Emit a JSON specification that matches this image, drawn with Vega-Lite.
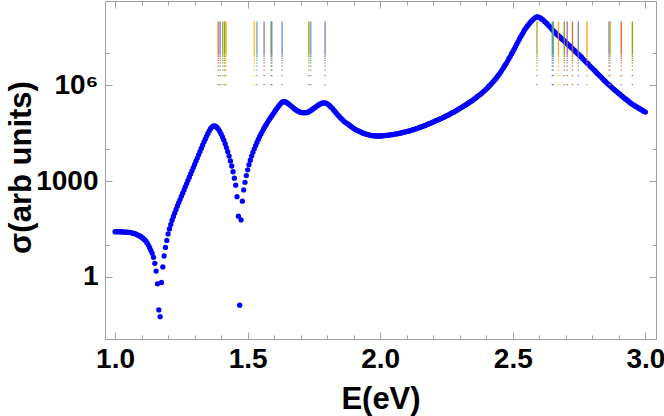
{
"$schema": "https://vega.github.io/schema/vega-lite/v6.json",
"width": 551, "height": 338,
"autosize": {"type": "none"},
"padding": {"left": 105, "top": 1, "right": 8, "bottom": 77},
"background": "white",
"config": {"view": {"stroke": "#a0a0a0", "strokeWidth": 1}, "font": "Liberation Sans"},
"datasets": {
"curve": [
{"E":1.000,"s":25.7},{"E":1.005,"s":25.7},{"E":1.010,"s":25.7},{"E":1.015,"s":25.7},{"E":1.020,"s":25.7},{"E":1.025,"s":25.7},
{"E":1.030,"s":25.1},{"E":1.035,"s":25.1},{"E":1.040,"s":25.1},{"E":1.045,"s":25.1},{"E":1.050,"s":24.5},{"E":1.055,"s":24.5},
{"E":1.060,"s":24.0},{"E":1.065,"s":23.4},{"E":1.070,"s":22.9},{"E":1.075,"s":22.4},{"E":1.080,"s":21.4},{"E":1.085,"s":20.4},
{"E":1.090,"s":19.5},{"E":1.095,"s":18.6},{"E":1.100,"s":17.4},{"E":1.105,"s":16.2},{"E":1.110,"s":14.8},{"E":1.115,"s":13.5},
{"E":1.120,"s":11.7},{"E":1.125,"s":10.0},{"E":1.130,"s":8.32},{"E":1.135,"s":6.76},{"E":1.140,"s":5.37},{"E":1.145,"s":4.07},
{"E":1.150,"s":2.63},{"E":1.155,"s":1.51},{"E":1.160,"s":0.603},{"E":1.165,"s":0.0912},{"E":1.170,"s":0.0562},{"E":1.175,"s":0.661},
{"E":1.180,"s":2.04},{"E":1.185,"s":4.47},{"E":1.190,"s":8.32},{"E":1.195,"s":13.8},{"E":1.200,"s":21.9},
{"E":1.205,"s":31.6},{"E":1.210,"s":43.7},{"E":1.215,"s":58.9},{"E":1.220,"s":77.6},{"E":1.225,"s":100},{"E":1.230,"s":129},
{"E":1.235,"s":166},{"E":1.240,"s":209},{"E":1.245,"s":263},{"E":1.250,"s":331},{"E":1.255,"s":417},{"E":1.260,"s":525},
{"E":1.265,"s":661},{"E":1.270,"s":832},{"E":1.275,"s":1050},{"E":1.280,"s":1320},{"E":1.285,"s":1660},{"E":1.290,"s":2090},
{"E":1.295,"s":2630},{"E":1.300,"s":3310},{"E":1.305,"s":4170},{"E":1.310,"s":5250},{"E":1.315,"s":6610},{"E":1.320,"s":8320},
{"E":1.325,"s":1.05e4},{"E":1.330,"s":1.32e4},{"E":1.335,"s":1.66e4},{"E":1.340,"s":2.04e4},{"E":1.345,"s":2.51e4},{"E":1.350,"s":3.09e4},
{"E":1.355,"s":3.72e4},{"E":1.360,"s":4.37e4},{"E":1.365,"s":4.90e4},{"E":1.370,"s":5.25e4},{"E":1.375,"s":5.37e4},{"E":1.380,"s":5.13e4},
{"E":1.385,"s":4.68e4},{"E":1.390,"s":4.17e4},{"E":1.395,"s":3.55e4},{"E":1.400,"s":2.95e4},{"E":1.405,"s":2.40e4},{"E":1.410,"s":1.91e4},
{"E":1.415,"s":1.48e4},{"E":1.420,"s":1.12e4},{"E":1.425,"s":8320},{"E":1.430,"s":6030},{"E":1.435,"s":4270},{"E":1.440,"s":2950},
{"E":1.445,"s":1950},{"E":1.450,"s":1230},{"E":1.455,"s":741},{"E":1.460,"s":324},{"E":1.465,"s":79.4},{"E":1.470,"s":0.129},
{"E":1.475,"s":60.3},{"E":1.480,"s":234},{"E":1.485,"s":525},{"E":1.490,"s":912},{"E":1.495,"s":1480},{"E":1.500,"s":2240},
{"E":1.505,"s":3240},{"E":1.510,"s":4470},{"E":1.515,"s":6030},{"E":1.520,"s":7940},{"E":1.525,"s":1.02e4},{"E":1.530,"s":1.29e4},
{"E":1.535,"s":1.62e4},{"E":1.540,"s":2.00e4},{"E":1.545,"s":2.45e4},{"E":1.550,"s":2.95e4},{"E":1.555,"s":3.55e4},{"E":1.560,"s":4.27e4},
{"E":1.565,"s":5.01e4},{"E":1.570,"s":5.89e4},{"E":1.575,"s":6.92e4},{"E":1.580,"s":8.13e4},{"E":1.585,"s":9.33e4},{"E":1.590,"s":1.07e5},
{"E":1.595,"s":1.23e5},{"E":1.600,"s":1.41e5},{"E":1.605,"s":1.62e5},{"E":1.610,"s":1.86e5},{"E":1.615,"s":2.14e5},{"E":1.620,"s":2.40e5},
{"E":1.625,"s":2.69e5},{"E":1.630,"s":2.95e5},{"E":1.635,"s":3.09e5},{"E":1.640,"s":3.09e5},{"E":1.645,"s":2.95e5},{"E":1.650,"s":2.75e5},
{"E":1.655,"s":2.57e5},{"E":1.660,"s":2.40e5},{"E":1.665,"s":2.19e5},{"E":1.670,"s":2.04e5},{"E":1.675,"s":1.86e5},{"E":1.680,"s":1.74e5},
{"E":1.685,"s":1.62e5},{"E":1.690,"s":1.55e5},{"E":1.695,"s":1.48e5},{"E":1.700,"s":1.41e5},{"E":1.705,"s":1.38e5},{"E":1.710,"s":1.38e5},
{"E":1.715,"s":1.38e5},{"E":1.720,"s":1.38e5},{"E":1.725,"s":1.41e5},{"E":1.730,"s":1.48e5},{"E":1.735,"s":1.55e5},{"E":1.740,"s":1.66e5},
{"E":1.745,"s":1.78e5},{"E":1.750,"s":1.91e5},{"E":1.755,"s":2.04e5},{"E":1.760,"s":2.19e5},{"E":1.765,"s":2.34e5},{"E":1.770,"s":2.51e5},
{"E":1.775,"s":2.63e5},{"E":1.780,"s":2.75e5},{"E":1.785,"s":2.82e5},{"E":1.790,"s":2.82e5},{"E":1.795,"s":2.75e5},{"E":1.800,"s":2.63e5},
{"E":1.805,"s":2.45e5},{"E":1.810,"s":2.24e5},{"E":1.815,"s":2.04e5},{"E":1.820,"s":1.86e5},{"E":1.825,"s":1.66e5},{"E":1.830,"s":1.48e5},
{"E":1.835,"s":1.32e5},{"E":1.840,"s":1.17e5},{"E":1.845,"s":1.07e5},{"E":1.850,"s":9.55e4},{"E":1.855,"s":8.71e4},{"E":1.860,"s":7.94e4},
{"E":1.865,"s":7.24e4},{"E":1.870,"s":6.76e4},{"E":1.875,"s":6.31e4},{"E":1.880,"s":5.89e4},{"E":1.885,"s":5.50e4},{"E":1.890,"s":5.13e4},
{"E":1.895,"s":4.79e4},{"E":1.900,"s":4.47e4},{"E":1.905,"s":4.17e4},{"E":1.910,"s":3.98e4},{"E":1.915,"s":3.80e4},{"E":1.920,"s":3.63e4},
{"E":1.925,"s":3.47e4},{"E":1.930,"s":3.31e4},{"E":1.935,"s":3.16e4},{"E":1.940,"s":3.09e4},{"E":1.945,"s":2.95e4},{"E":1.950,"s":2.88e4},
{"E":1.955,"s":2.82e4},{"E":1.960,"s":2.75e4},{"E":1.965,"s":2.69e4},{"E":1.970,"s":2.63e4},{"E":1.975,"s":2.63e4},{"E":1.980,"s":2.57e4},
{"E":1.985,"s":2.57e4},{"E":1.990,"s":2.57e4},{"E":1.995,"s":2.57e4},{"E":2.000,"s":2.57e4},{"E":2.005,"s":2.57e4},{"E":2.010,"s":2.63e4},
{"E":2.015,"s":2.63e4},{"E":2.020,"s":2.69e4},{"E":2.025,"s":2.69e4},{"E":2.030,"s":2.75e4},{"E":2.035,"s":2.75e4},{"E":2.040,"s":2.82e4},
{"E":2.045,"s":2.82e4},{"E":2.050,"s":2.88e4},{"E":2.055,"s":2.95e4},{"E":2.060,"s":3.02e4},{"E":2.065,"s":3.02e4},{"E":2.070,"s":3.09e4},
{"E":2.075,"s":3.16e4},{"E":2.080,"s":3.24e4},{"E":2.085,"s":3.31e4},{"E":2.090,"s":3.39e4},{"E":2.095,"s":3.47e4},{"E":2.100,"s":3.55e4},
{"E":2.105,"s":3.63e4},{"E":2.110,"s":3.72e4},{"E":2.115,"s":3.80e4},{"E":2.120,"s":3.98e4},{"E":2.125,"s":4.07e4},{"E":2.130,"s":4.17e4},
{"E":2.135,"s":4.37e4},{"E":2.140,"s":4.47e4},{"E":2.145,"s":4.68e4},{"E":2.150,"s":4.79e4},{"E":2.155,"s":5.01e4},{"E":2.160,"s":5.13e4},
{"E":2.165,"s":5.37e4},{"E":2.170,"s":5.50e4},{"E":2.175,"s":5.75e4},{"E":2.180,"s":6.03e4},{"E":2.185,"s":6.31e4},{"E":2.190,"s":6.46e4},
{"E":2.195,"s":6.76e4},{"E":2.200,"s":7.08e4},{"E":2.205,"s":7.41e4},{"E":2.210,"s":7.76e4},{"E":2.215,"s":7.94e4},{"E":2.220,"s":8.32e4},
{"E":2.225,"s":8.71e4},{"E":2.230,"s":9.12e4},{"E":2.235,"s":9.55e4},{"E":2.240,"s":1.00e5},{"E":2.245,"s":1.05e5},{"E":2.250,"s":1.10e5},
{"E":2.255,"s":1.15e5},{"E":2.260,"s":1.20e5},{"E":2.265,"s":1.29e5},{"E":2.270,"s":1.35e5},{"E":2.275,"s":1.41e5},{"E":2.280,"s":1.48e5},
{"E":2.285,"s":1.58e5},{"E":2.290,"s":1.66e5},{"E":2.295,"s":1.78e5},{"E":2.300,"s":1.86e5},{"E":2.305,"s":2.00e5},{"E":2.310,"s":2.09e5},
{"E":2.315,"s":2.24e5},{"E":2.320,"s":2.34e5},{"E":2.325,"s":2.51e5},{"E":2.330,"s":2.69e5},{"E":2.335,"s":2.88e5},{"E":2.340,"s":3.02e5},
{"E":2.345,"s":3.24e5},{"E":2.350,"s":3.47e5},{"E":2.355,"s":3.72e5},{"E":2.360,"s":3.98e5},{"E":2.365,"s":4.37e5},{"E":2.370,"s":4.68e5},
{"E":2.375,"s":5.01e5},{"E":2.380,"s":5.37e5},{"E":2.385,"s":5.89e5},{"E":2.390,"s":6.46e5},{"E":2.395,"s":6.92e5},{"E":2.400,"s":7.59e5},
{"E":2.405,"s":8.32e5},{"E":2.410,"s":9.33e5},{"E":2.415,"s":1.02e6},{"E":2.420,"s":1.15e6},{"E":2.425,"s":1.26e6},{"E":2.430,"s":1.41e6},
{"E":2.435,"s":1.58e6},{"E":2.440,"s":1.78e6},{"E":2.445,"s":2.04e6},{"E":2.450,"s":2.29e6},{"E":2.455,"s":2.63e6},{"E":2.460,"s":3.09e6},
{"E":2.465,"s":3.55e6},{"E":2.470,"s":4.17e6},{"E":2.475,"s":4.79e6},{"E":2.480,"s":5.62e6},{"E":2.485,"s":6.76e6},{"E":2.490,"s":7.94e6},
{"E":2.495,"s":9.55e6},{"E":2.500,"s":1.12e7},{"E":2.505,"s":1.35e7},{"E":2.510,"s":1.62e7},{"E":2.515,"s":1.95e7},{"E":2.520,"s":2.34e7},
{"E":2.525,"s":2.82e7},{"E":2.530,"s":3.31e7},{"E":2.535,"s":3.89e7},{"E":2.540,"s":4.68e7},{"E":2.545,"s":5.50e7},{"E":2.550,"s":6.31e7},
{"E":2.555,"s":7.24e7},{"E":2.560,"s":8.13e7},{"E":2.565,"s":9.12e7},{"E":2.570,"s":1.02e8},{"E":2.575,"s":1.12e8},{"E":2.580,"s":1.23e8},
{"E":2.585,"s":1.32e8},{"E":2.590,"s":1.38e8},{"E":2.595,"s":1.38e8},{"E":2.600,"s":1.32e8},{"E":2.605,"s":1.26e8},{"E":2.610,"s":1.17e8},
{"E":2.615,"s":1.10e8},{"E":2.620,"s":1.00e8},{"E":2.625,"s":9.12e7},{"E":2.630,"s":8.32e7},{"E":2.635,"s":7.41e7},{"E":2.640,"s":6.76e7},
{"E":2.645,"s":6.03e7},{"E":2.650,"s":5.37e7},{"E":2.655,"s":4.90e7},{"E":2.660,"s":4.47e7},{"E":2.665,"s":4.07e7},{"E":2.670,"s":3.72e7},
{"E":2.675,"s":3.39e7},{"E":2.680,"s":3.09e7},{"E":2.685,"s":2.82e7},{"E":2.690,"s":2.63e7},{"E":2.695,"s":2.40e7},{"E":2.700,"s":2.19e7},
{"E":2.705,"s":2.00e7},{"E":2.710,"s":1.82e7},{"E":2.715,"s":1.70e7},{"E":2.720,"s":1.55e7},{"E":2.725,"s":1.41e7},{"E":2.730,"s":1.29e7},
{"E":2.735,"s":1.17e7},{"E":2.740,"s":1.07e7},{"E":2.745,"s":9.77e6},{"E":2.750,"s":8.91e6},{"E":2.755,"s":8.13e6},{"E":2.760,"s":7.41e6},
{"E":2.765,"s":6.61e6},{"E":2.770,"s":6.03e6},{"E":2.775,"s":5.50e6},{"E":2.780,"s":5.01e6},{"E":2.785,"s":4.57e6},{"E":2.790,"s":4.07e6},
{"E":2.795,"s":3.72e6},{"E":2.800,"s":3.39e6},{"E":2.805,"s":3.09e6},{"E":2.810,"s":2.82e6},{"E":2.815,"s":2.51e6},{"E":2.820,"s":2.29e6},
{"E":2.825,"s":2.09e6},{"E":2.830,"s":1.91e6},{"E":2.835,"s":1.74e6},{"E":2.840,"s":1.55e6},{"E":2.845,"s":1.41e6},{"E":2.850,"s":1.29e6},
{"E":2.855,"s":1.17e6},{"E":2.860,"s":1.07e6},{"E":2.865,"s":1.00e6},{"E":2.870,"s":9.12e5},{"E":2.875,"s":8.32e5},{"E":2.880,"s":7.59e5},
{"E":2.885,"s":7.08e5},{"E":2.890,"s":6.46e5},{"E":2.895,"s":6.03e5},{"E":2.900,"s":5.50e5},{"E":2.905,"s":5.13e5},{"E":2.910,"s":4.68e5},
{"E":2.915,"s":4.37e5},{"E":2.920,"s":3.98e5},{"E":2.925,"s":3.72e5},{"E":2.930,"s":3.47e5},{"E":2.935,"s":3.24e5},{"E":2.940,"s":2.95e5},
{"E":2.945,"s":2.75e5},{"E":2.950,"s":2.57e5},{"E":2.955,"s":2.40e5},{"E":2.960,"s":2.29e5},{"E":2.965,"s":2.14e5},{"E":2.970,"s":2.04e5},
{"E":2.975,"s":1.91e5},{"E":2.980,"s":1.82e5},{"E":2.985,"s":1.70e5},{"E":2.990,"s":1.62e5},{"E":2.995,"s":1.51e5},{"E":3.000,"s":1.45e5}
],
"lines": [
{"E":1.389,"t":1},{"E":1.396,"t":2},{"E":1.406,"t":3},{"E":1.413,"t":4},{"E":1.418,"t":5},{"E":1.525,"t":6},{"E":1.535,"t":7},
{"E":1.562,"t":8},{"E":1.588,"t":9},{"E":1.591,"t":10},{"E":1.630,"t":11},{"E":1.731,"t":12},{"E":1.738,"t":13},{"E":1.792,"t":14},
{"E":2.591,"t":15},{"E":2.649,"t":16},{"E":2.653,"t":17},{"E":2.672,"t":18},{"E":2.694,"t":19},{"E":2.705,"t":20},{"E":2.725,"t":21},
{"E":2.747,"t":22},{"E":2.780,"t":23},{"E":2.863,"t":24},{"E":2.867,"t":25},{"E":2.909,"t":26},{"E":2.951,"t":27}
]
},
"layer": [
{
"data": {"name": "curve"},
"mark": {"type": "circle", "size": 28, "color": "#0000ff", "opacity": 1},
"encoding": {
"x": {"field": "E", "type": "quantitative",
 "scale": {"domain": [0.962, 3.04], "nice": false, "zero": false},
 "axis": {"orient": "bottom", "values": [1.0,1.1,1.2,1.3,1.4,1.5,1.6,1.7,1.8,1.9,2.0,2.1,2.2,2.3,2.4,2.5,2.6,2.7,2.8,2.9,3.0],
  "labelExpr": "abs(datum.value*2 - round(datum.value*2)) < 0.001 ? format(datum.value, '.1f') : ''",
  "tickSize": {"condition": {"test": "abs(datum.value*2 - round(datum.value*2)) < 0.001", "value": -7}, "value": -4},
  "tickColor": "#a0a0a0", "domain": false, "grid": false,
  "labelFontSize": 28, "labelFontWeight": "bold", "labelColor": "black", "labelPadding": 13, "labelBaseline": "top", "labelFlush": false, "labelOverlap": false,
  "title": "E(eV)", "titleFontSize": 31, "titleFontWeight": "bold", "titleColor": "black", "titleX": 275.5, "titleY": 69, "titleBaseline": "alphabetic", "titleAlign": "center"}},
"y": {"field": "s", "type": "quantitative",
 "scale": {"type": "log", "domain": [0.01122, 4.365e8], "nice": false},
 "axis": {"orient": "left", "values": [1, 10, 1000, 10000, 1000000, 10000000],
  "labelExpr": "datum.value == 1 ? '1' : datum.value == 1000 ? '1000' : datum.value == 1000000 ? '10⁶' : ''",
  "tickSize": {"condition": {"test": "datum.value == 1 || datum.value == 1000 || datum.value == 1000000", "value": -7}, "value": -4},
  "tickColor": "#a0a0a0", "domain": false, "grid": false,
  "labelFontSize": 28, "labelFontWeight": "bold", "labelColor": "black", "labelPadding": 14, "labelFlush": false, "labelOverlap": false,
  "title": "σ(arb units)", "titleFontSize": 31, "titleFontWeight": "bold", "titleColor": "black", "titleX": -84, "titleY": 166, "titleAngle": -90, "titleAlign": "center", "titleBaseline": "middle"}}
}
},
{
"data": {"name": "lines"},
"mark": {"type": "rule", "strokeWidth": 1.4, "opacity": 0.9, "strokeCap": "butt",
 "strokeDash": [1.2, 7.8, 1.2, 4.4, 1.2, 2.8, 1.2, 1.9, 1.2, 1.3, 1.2, 1.0, 1.2, 0.6, 1.2, 0.4, 1.2, 0.3, 80, 0]},
"encoding": {
"x": {"field": "E", "type": "quantitative",
 "axis": {"orient": "top", "values": [1.0,1.1,1.2,1.3,1.4,1.5,1.6,1.7,1.8,1.9,2.0,2.1,2.2,2.3,2.4,2.5,2.6,2.7,2.8,2.9,3.0],
  "labels": false, "title": null, "domain": false, "grid": false, "tickColor": "#a0a0a0",
  "tickSize": {"condition": {"test": "abs(datum.value*2 - round(datum.value*2)) < 0.001", "value": -7}, "value": -4}}},
"y": {"datum": 1000000, "type": "quantitative",
 "axis": {"orient": "right", "values": [1, 10, 1000, 10000, 1000000, 10000000],
  "labels": false, "title": null, "domain": false, "grid": false, "tickColor": "#a0a0a0",
  "tickSize": {"condition": {"test": "datum.value == 1 || datum.value == 1000 || datum.value == 1000000", "value": -7}, "value": -4}}},
"y2": {"datum": 100000000},
"color": {"field": "t", "type": "nominal", "legend": null,
 "scale": {"domain": [1,2,3,4,5,6,7,8,9,10,11,12,13,14,15,16,17,18,19,20,21,22,23,24,25,26,27],
  "range": ["#EB6235","#5E81B5","#8FB032","#929600","#D9B000","#FFBF00","#5D9EC7","#8778B3","#8FB032","#5E81B5","#6685D9","#929600","#5D9EC7","#8778B3","#8FB032","#5E81B5","#47B66D","#F89F13","#929600","#A5609D","#C56E1A","#8778B3","#F89F13","#5E81B5","#E19C24","#E95536","#929600"]}}
}
}
],
"resolve": {"axis": {"x": "independent", "y": "independent"}}
}
